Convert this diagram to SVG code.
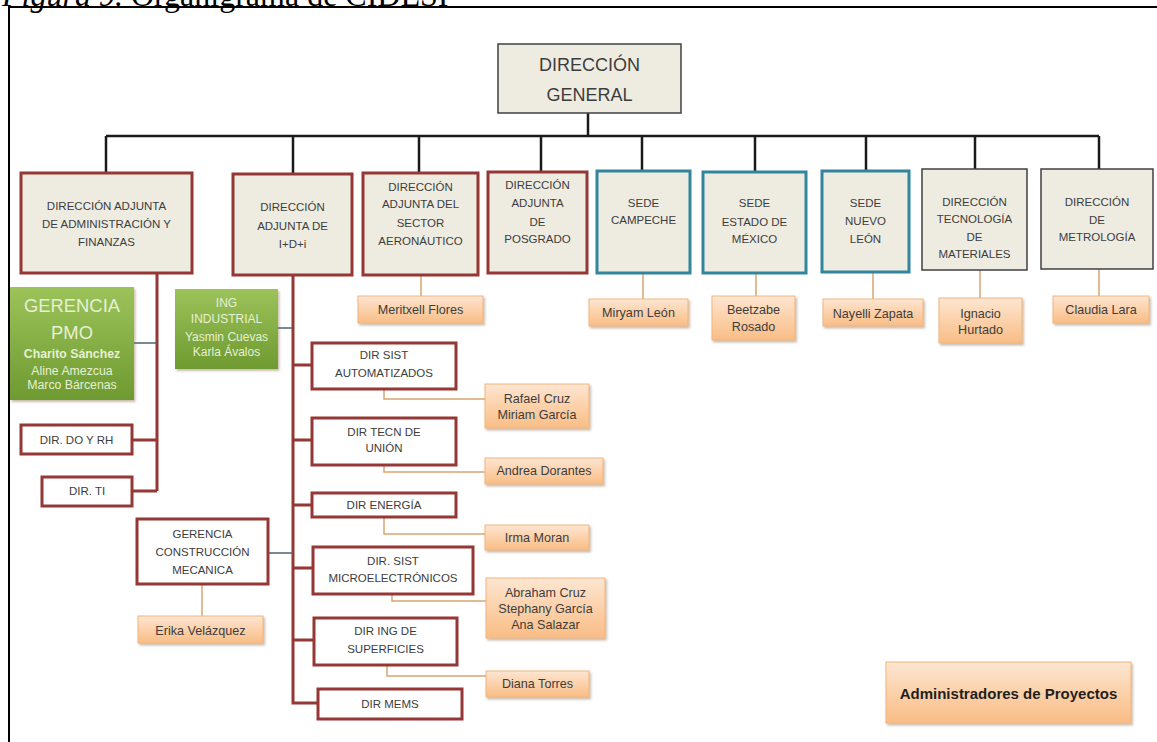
<svg xmlns="http://www.w3.org/2000/svg" width="1157" height="742" viewBox="0 0 1157 742">
<defs>
<linearGradient id="og" x1="0" y1="0" x2="0" y2="1"><stop offset="0" stop-color="#fde6d2"/><stop offset="0.45" stop-color="#fcd3ae"/><stop offset="1" stop-color="#f9bd86"/></linearGradient>
<linearGradient id="gg" x1="0" y1="0" x2="0" y2="1"><stop offset="0" stop-color="#9cc35a"/><stop offset="1" stop-color="#6e9a30"/></linearGradient>
<filter id="sh" x="-10%" y="-10%" width="130%" height="140%"><feDropShadow dx="1.5" dy="2" stdDeviation="1.2" flood-color="#8a6a50" flood-opacity="0.45"/></filter>
<style>
.rg{fill:#eeece1;stroke:#953735;stroke-width:3}
.tg{fill:#eeece1;stroke:#31859c;stroke-width:3}
.kg{fill:#eeece1;stroke:#404040;stroke-width:1.5}
.rw{fill:#fff;stroke:#953735;stroke-width:3}
.or{fill:url(#og);stroke:#f1b57f;stroke-width:1;filter:url(#sh)}
.gn{fill:url(#gg);stroke:none;filter:url(#sh)}
text{font-family:"Liberation Sans",Arial,sans-serif;text-anchor:middle;fill:#3d3d3d}
.l{font-size:11.5px}
.n{font-size:12.6px}
.gt{fill:#e6f0d4}
.bk{stroke:#1a1a1a;stroke-width:2.5;fill:none}
.rd{stroke:#953735;stroke-width:3;fill:none}
.gy{stroke:#4f6272;stroke-width:1.5;fill:none}
.tn{stroke:#d6a572;stroke-width:1.5;fill:none}
</style>
</defs>
<text x="2" y="6" style="font-family:'Liberation Serif','Times New Roman',serif;font-size:32px;text-anchor:start;fill:#000"><tspan font-style="italic">Figura 9.</tspan> Organigrama de CIDESI</text>
<path d="M9,742 V7 H1157" stroke="#000" stroke-width="2" fill="none"/>
<g id="connectors">
<path class="bk" d="M588,113 V136 M106,136 H1099 M106,136 V173 M293,136 V174 M419,136 V173 M541,136 V172 M642,136 V171 M755,136 V172 M866,136 V171 M975,136 V169 M1099,136 V169"/>
<path class="rd" d="M157,273 V491 M132,440 H157 M132,491 H157 M293,275 V703 H318 M293,365 H312 M293,440 H312 M293,505 H312 M293,568 H313 M293,640 H314"/>
<path class="gy" d="M134,343 H157 M278,328 H293 M268,553 H293"/>
<path class="tn" d="M421,275 V296 M643,273 V299 M756,273 V296 M873,272 V299 M980,270 V298 M1099,269 V296 M202,584 V616 M384,389 V399 H485 M384,465 V472 H485 M384,517 V534 H485 M392,594 V601 H486 M387,665 V676 H486"/>
</g>
<g id="dg"><rect class="kg" x="498" y="44" width="183" height="69"/><text x="589.5" y="70.5" style="font-size:18px">DIRECCIÓN</text><text x="589.5" y="100.5" style="font-size:18px">GENERAL</text></g>
<g id="admin"><rect class="rg" x="21" y="173" width="171" height="100"/><text class="l" x="106.5" y="210">DIRECCIÓN ADJUNTA</text><text class="l" x="106.5" y="228">DE ADMINISTRACIÓN Y</text><text class="l" x="106.5" y="246">FINANZAS</text></g>
<g id="idi"><rect class="rg" x="233" y="174" width="119" height="101"/><text class="l" x="292.5" y="211">DIRECCIÓN</text><text class="l" x="292.5" y="230">ADJUNTA  DE</text><text class="l" x="292.5" y="248">I+D+i</text></g>
<g id="aero"><rect class="rg" x="363" y="173" width="115" height="102"/><text class="l" x="420.5" y="191">DIRECCIÓN</text><text class="l" x="420.5" y="208">ADJUNTA  DEL</text><text class="l" x="420.5" y="227">SECTOR</text><text class="l" x="420.5" y="245">AERONÁUTICO</text></g>
<g id="posgrado"><rect class="rg" x="488" y="172" width="99" height="101"/><text class="l" x="537.5" y="189">DIRECCIÓN</text><text class="l" x="537.5" y="207">ADJUNTA</text><text class="l" x="537.5" y="226">DE</text><text class="l" x="537.5" y="243">POSGRADO</text></g>
<g id="campeche"><rect class="tg" x="597" y="171" width="93" height="102"/><text class="l" x="643.5" y="207">SEDE</text><text class="l" x="643.5" y="224">CAMPECHE</text></g>
<g id="edomex"><rect class="tg" x="703" y="172" width="103" height="101"/><text class="l" x="754.5" y="207">SEDE</text><text class="l" x="754.5" y="226">ESTADO  DE</text><text class="l" x="754.5" y="243">MÉXICO</text></g>
<g id="nuevoleon"><rect class="tg" x="822" y="171" width="87" height="101"/><text class="l" x="865.5" y="207">SEDE</text><text class="l" x="865.5" y="225">NUEVO</text><text class="l" x="865.5" y="243">LEÓN</text></g>
<g id="materiales"><rect class="kg" x="922" y="169" width="105" height="101"/><text class="l" x="974.5" y="206">DIRECCIÓN</text><text class="l" x="974.5" y="223">TECNOLOGÍA</text><text class="l" x="974.5" y="241">DE</text><text class="l" x="974.5" y="258">MATERIALES</text></g>
<g id="metrologia"><rect class="kg" x="1041" y="169" width="112" height="100"/><text class="l" x="1097" y="206">DIRECCIÓN</text><text class="l" x="1097" y="224">DE</text><text class="l" x="1097" y="241">METROLOGÍA</text></g>
<g id="meritxell"><rect class="or" x="358" y="296" width="125" height="27"/><text class="n" x="420.5" y="313.5">Meritxell Flores</text></g>
<g id="miryam"><rect class="or" x="589" y="299" width="99" height="27"/><text class="n" x="638.5" y="316.5">Miryam León</text></g>
<g id="beetzabe"><rect class="or" x="712" y="296" width="83" height="44"/><text class="n" x="753.5" y="313.5">Beetzabe</text><text class="n" x="753.5" y="330.5">Rosado</text></g>
<g id="nayelli"><rect class="or" x="823" y="299" width="100" height="27"/><text class="n" x="873" y="317.5">Nayelli Zapata</text></g>
<g id="ignacio"><rect class="or" x="939" y="298" width="83" height="45"/><text class="n" x="980.5" y="317.5">Ignacio</text><text class="n" x="980.5" y="333.5">Hurtado</text></g>
<g id="claudia"><rect class="or" x="1053" y="296" width="96" height="27"/><text class="n" x="1101" y="313.5">Claudia Lara</text></g>
<g id="pmo"><rect class="gn" x="10" y="287" width="124" height="113"/><text class="gt" x="72" y="311.5" style="font-size:18.4px">GERENCIA</text><text class="gt" x="72" y="338.5" style="font-size:18.4px">PMO</text><text class="gt" x="72" y="357.5" style="font-size:12.3px;font-weight:bold">Charito Sánchez</text><text class="gt" x="72" y="374.5" style="font-size:12.3px">Aline Amezcua</text><text class="gt" x="72" y="388.5" style="font-size:12.3px">Marco Bárcenas</text></g>
<g id="ingind"><rect class="gn" x="175" y="289" width="103" height="80"/><text class="gt" x="226.5" y="307" style="font-size:12px">ING</text><text class="gt" x="226.5" y="323" style="font-size:12px">INDUSTRIAL</text><text class="gt" x="226.5" y="341" style="font-size:12px">Yasmin Cuevas</text><text class="gt" x="226.5" y="356" style="font-size:12px">Karla Ávalos</text></g>
<g id="dorh"><rect class="rw" x="21" y="425" width="111" height="29"/><text class="l" x="76.5" y="444">DIR. DO Y RH</text></g>
<g id="ti"><rect class="rw" x="42" y="477" width="90" height="29"/><text class="l" x="87" y="495">DIR. TI</text></g>
<g id="gcm"><rect class="rw" x="137" y="519" width="131" height="65"/><text class="l" x="202.5" y="538">GERENCIA</text><text class="l" x="202.5" y="556">CONSTRUCCIÓN</text><text class="l" x="202.5" y="574">MECANICA</text></g>
<g id="erika"><rect class="or" x="138" y="616" width="125" height="27"/><text class="n" x="200.5" y="634.5">Erika Velázquez</text></g>
<g id="sistaut"><rect class="rw" x="312" y="343" width="144" height="46"/><text class="l" x="384" y="359">DIR SIST</text><text class="l" x="384" y="377">AUTOMATIZADOS</text></g>
<g id="rafael"><rect class="or" x="485" y="384" width="104" height="44"/><text class="n" x="537" y="402.5">Rafael Cruz</text><text class="n" x="537" y="418.5">Miriam García</text></g>
<g id="union"><rect class="rw" x="312" y="418" width="144" height="47"/><text class="l" x="384" y="436">DIR TECN  DE</text><text class="l" x="384" y="452">UNIÓN</text></g>
<g id="andrea"><rect class="or" x="485" y="458" width="118" height="26"/><text class="n" x="544" y="474.5">Andrea Dorantes</text></g>
<g id="energia"><rect class="rw" x="312" y="493" width="144" height="24"/><text class="l" x="384" y="509">DIR ENERGÍA</text></g>
<g id="irma"><rect class="or" x="485" y="525" width="104" height="25"/><text class="n" x="537" y="542">Irma Moran</text></g>
<g id="micro"><rect class="rw" x="313" y="547" width="160" height="47"/><text class="l" x="393" y="565">DIR. SIST</text><text class="l" x="393" y="582">MICROELECTRÓNICOS</text></g>
<g id="abraham"><rect class="or" x="486" y="578" width="119" height="60"/><text class="n" x="545.5" y="596.5">Abraham Cruz</text><text class="n" x="545.5" y="612.5">Stephany García</text><text class="n" x="545.5" y="628.5">Ana Salazar</text></g>
<g id="superf"><rect class="rw" x="314" y="618" width="143" height="47"/><text class="l" x="385.5" y="635">DIR ING DE</text><text class="l" x="385.5" y="653">SUPERFICIES</text></g>
<g id="diana"><rect class="or" x="486" y="671" width="103" height="26"/><text class="n" x="537.5" y="687.5">Diana Torres</text></g>
<g id="mems"><rect class="rw" x="318" y="689" width="144" height="30"/><text class="l" x="390" y="708">DIR MEMS</text></g>
<g id="adminproy"><rect class="or" x="886" y="662" width="245" height="61"/><text x="1008.5" y="698.5" style="font-size:15px;font-weight:bold;fill:#1f1f1f">Administradores de Proyectos</text></g>
</svg>
